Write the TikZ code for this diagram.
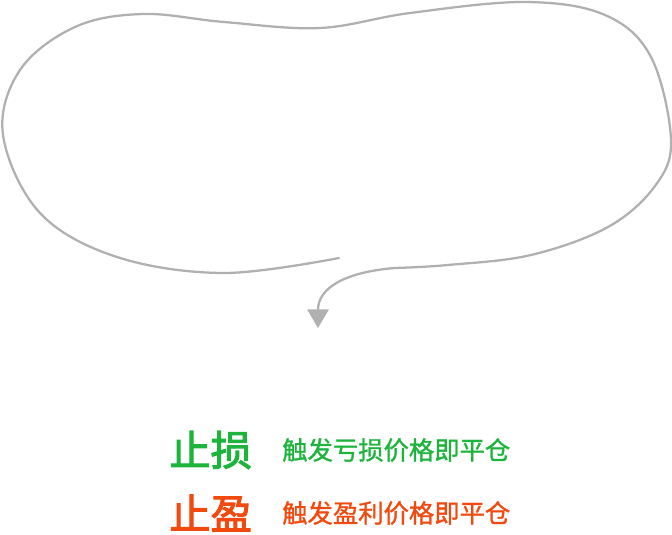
\documentclass[tikz,border=0pt]{standalone}
\usepackage{fontspec}
\usepackage{xcolor}
\usepackage{tikz}
\usetikzlibrary{arrows.meta, positioning}
\newfontfamily\cjk[FakeBold=1.2]{Noto Sans CJK SC}
\newfontfamily\cjkbold[FakeBold=2.5]{Noto Sans CJK SC}

\definecolor{lossgreen}{HTML}{1DB43C}
\definecolor{profitred}{HTML}{F2490F}
\definecolor{blobgray}{HTML}{B0B0B0}

\begin{document}
\begin{tikzpicture}[x=0.75pt, y=-0.75pt,
    title/.style={font=\cjkbold\fontsize{31}{33}\selectfont, inner sep=0pt, anchor=west},
    desc/.style={font=\cjk\fontsize{19}{21}\selectfont, inner sep=0pt, anchor=west}]
        \useasboundingbox (0,0) rectangle (672,535);

        % Thought bubble
        \draw[blobgray, line width=1.7pt, line cap=round, -{Triangle[width=16pt, length=14pt]}]
            plot[smooth, tension=0.6] coordinates {
                (339,258) (224,273) (117,257) (40,213) (3,135) (20,70)
                (75,27) (143,14) (224,22) (320,28) (410,13) (525,2) (605,15)
                (651,57) (671,140) (655,186) (608,227) (531,255) (448,265) (395,268)}
            .. controls (345,272) and (318,288) .. (318,328);

        % Stop loss
        \node[title, lossgreen] (loss) at (169,450) {止损};
        \node[desc, lossgreen] (lossdesc) at (282,450) {触发亏损价格即平仓};

        % Take profit
        \node[title, profitred] (profit) at (169,513) {止盈};
        \node[desc, profitred] (profitdesc) at (282,513) {触发盈利价格即平仓};
    \end{tikzpicture}
\end{document}
